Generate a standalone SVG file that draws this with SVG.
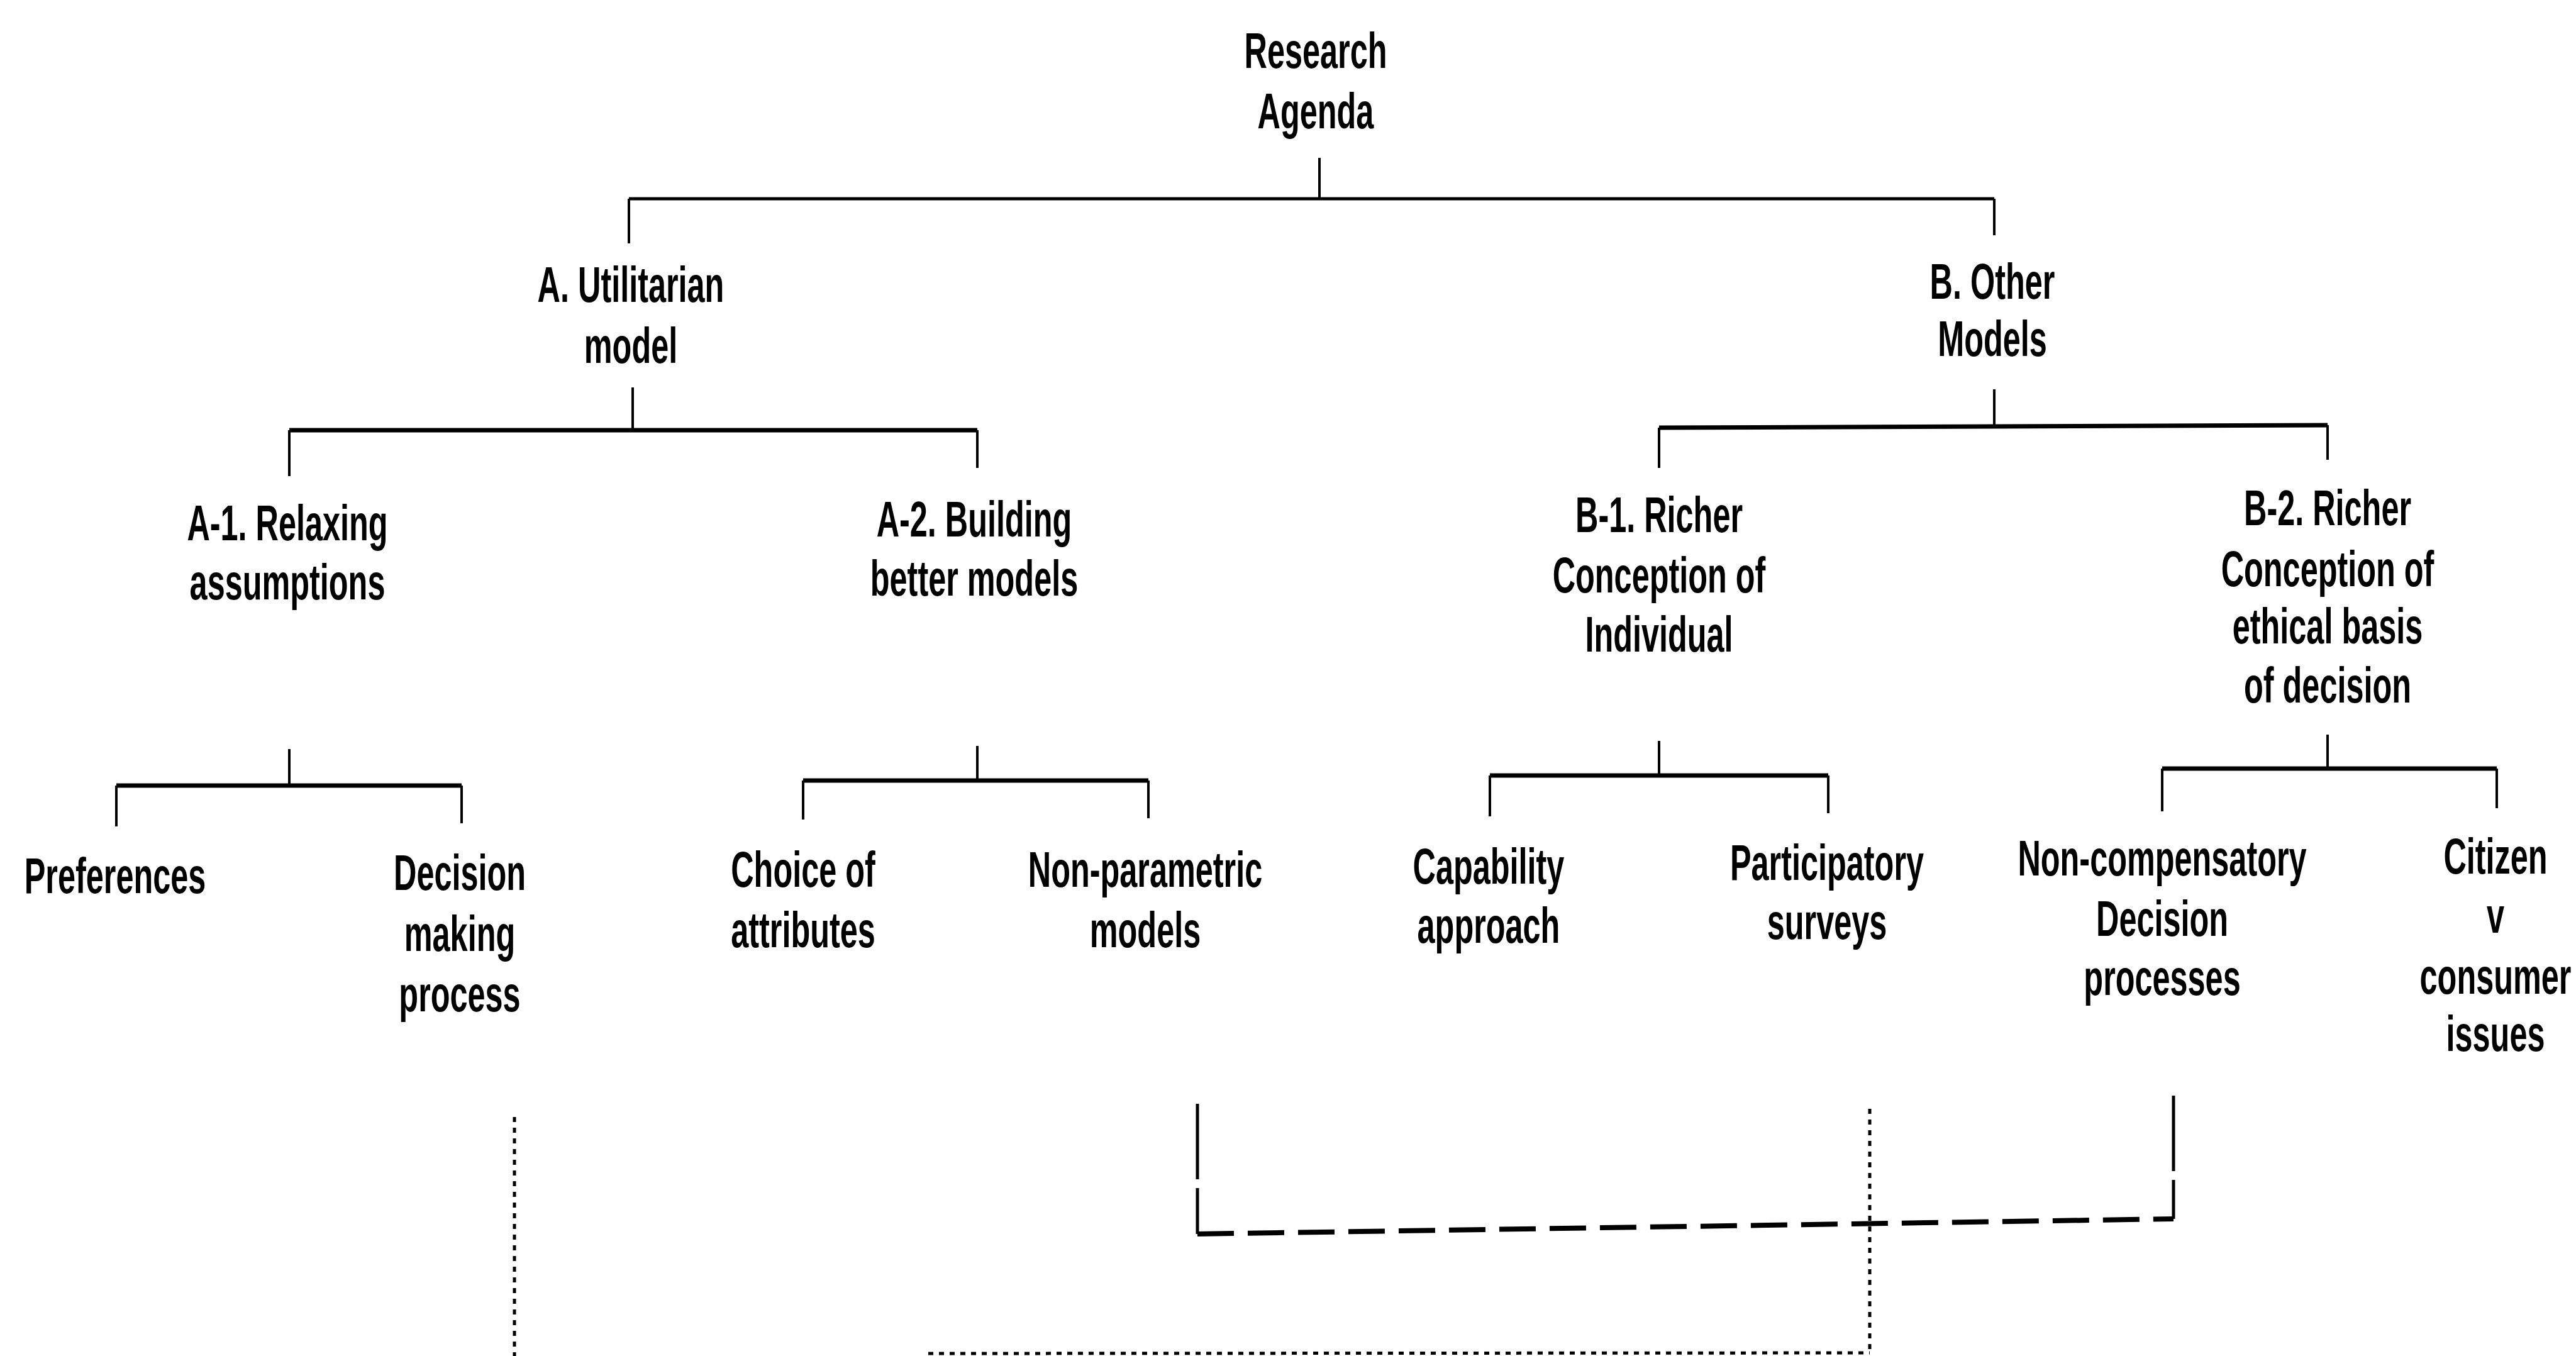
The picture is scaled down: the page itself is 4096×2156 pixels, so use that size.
<svg xmlns="http://www.w3.org/2000/svg" width="4096" height="2156" viewBox="0 0 4096 2156">
<style>
.t{font-family:"Liberation Sans",Arial,sans-serif;font-weight:bold;font-size:80px;fill:#000;text-anchor:middle}
.h{stroke:#000;stroke-width:7;fill:none}
.v{stroke:#000;stroke-width:4;fill:none}
.dash{stroke:#000;stroke-width:8;fill:none;stroke-dasharray:58 22}
.vdash{stroke:#000;stroke-width:5;fill:none;stroke-dasharray:120 14}
.dot{stroke:#000;stroke-width:5;fill:none;stroke-dasharray:8 9}
</style>
<rect width="4096" height="2156" fill="#fff"/>
<g id="connectors">
  <line class="v" x1="2098" y1="251" x2="2098" y2="316"/>
  <line class="h" x1="1000" y1="316" x2="3171" y2="316" style="stroke-width:5"/>
  <line class="v" x1="1000" y1="316" x2="1000" y2="387"/>
  <line class="v" x1="3171" y1="316" x2="3171" y2="374"/>
  <line class="v" x1="1006" y1="616" x2="1006" y2="684"/>
  <line class="h" x1="460" y1="684" x2="1554" y2="684"/>
  <line class="v" x1="460" y1="684" x2="460" y2="757"/>
  <line class="v" x1="1554" y1="684" x2="1554" y2="744"/>
  <line class="v" x1="3171" y1="619" x2="3171" y2="677"/>
  <line class="h" x1="2638" y1="680" x2="3701" y2="676"/>
  <line class="v" x1="2638" y1="680" x2="2638" y2="744"/>
  <line class="v" x1="3701" y1="676" x2="3701" y2="731"/>
  <line class="v" x1="460" y1="1191" x2="460" y2="1249"/>
  <line class="h" x1="185" y1="1249" x2="734" y2="1249"/>
  <line class="v" x1="185" y1="1249" x2="185" y2="1314"/>
  <line class="v" x1="734" y1="1249" x2="734" y2="1309"/>
  <line class="v" x1="1554" y1="1186" x2="1554" y2="1241"/>
  <line class="h" x1="1277" y1="1241" x2="1826" y2="1241"/>
  <line class="v" x1="1277" y1="1241" x2="1277" y2="1303"/>
  <line class="v" x1="1826" y1="1241" x2="1826" y2="1301"/>
  <line class="v" x1="2638" y1="1178" x2="2638" y2="1233"/>
  <line class="h" x1="2369" y1="1233" x2="2907" y2="1233"/>
  <line class="v" x1="2369" y1="1233" x2="2369" y2="1298"/>
  <line class="v" x1="2907" y1="1233" x2="2907" y2="1293"/>
  <line class="v" x1="3701" y1="1168" x2="3701" y2="1222"/>
  <line class="h" x1="3438" y1="1222" x2="3970" y2="1222"/>
  <line class="v" x1="3438" y1="1222" x2="3438" y2="1290"/>
  <line class="v" x1="3970" y1="1222" x2="3970" y2="1285"/>
  <line class="dot" x1="818" y1="1776" x2="818" y2="2156"/>
  <line class="vdash" x1="1904" y1="1755" x2="1904" y2="1962"/>
  <line class="dash" x1="1904" y1="1962" x2="3456" y2="1938"/>
  <line class="vdash" x1="3456" y1="1742" x2="3456" y2="1938"/>
  <line class="dot" x1="2973" y1="1763" x2="2973" y2="2151"/>
  <line class="dot" x1="1476" y1="2152" x2="2973" y2="2151"/>
</g>
<g id="n-root" transform="translate(2092,0)"><text class="t" transform="scale(0.63,1)"><tspan x="0" y="108">Research</tspan><tspan x="0" y="204">Agenda</tspan></text></g>
<g id="n-a" transform="translate(1003,0)"><text class="t" transform="scale(0.63,1)"><tspan x="0" y="480">A. Utilitarian</tspan><tspan x="0" y="577">model</tspan></text></g>
<g id="n-b" transform="translate(3168,0)"><text class="t" transform="scale(0.63,1)"><tspan x="0" y="475">B. Other</tspan><tspan x="0" y="566">Models</tspan></text></g>
<g id="n-a1" transform="translate(457,0)"><text class="t" transform="scale(0.63,1)"><tspan x="0" y="859">A-1. Relaxing</tspan><tspan x="0" y="953">assumptions</tspan></text></g>
<g id="n-a2" transform="translate(1549,0)"><text class="t" transform="scale(0.63,1)"><tspan x="0" y="853">A-2. Building</tspan><tspan x="0" y="947">better models</tspan></text></g>
<g id="n-b1" transform="translate(2638,0)"><text class="t" transform="scale(0.63,1)"><tspan x="0" y="846">B-1. Richer</tspan><tspan x="0" y="942">Conception of</tspan><tspan x="0" y="1036">Individual</tspan></text></g>
<g id="n-b2" transform="translate(3701,0)"><text class="t" transform="scale(0.63,1)"><tspan x="0" y="835">B-2. Richer</tspan><tspan x="0" y="932">Conception of</tspan><tspan x="0" y="1023">ethical basis</tspan><tspan x="0" y="1117">of decision</tspan></text></g>
<g id="n-pref" transform="translate(183,0)"><text class="t" transform="scale(0.63,1)"><tspan x="0" y="1420">Preferences</tspan></text></g>
<g id="n-dmp" transform="translate(731,0)"><text class="t" transform="scale(0.63,1)"><tspan x="0" y="1415">Decision</tspan><tspan x="0" y="1512">making</tspan><tspan x="0" y="1608">process</tspan></text></g>
<g id="n-choice" transform="translate(1277,0)"><text class="t" transform="scale(0.63,1)"><tspan x="0" y="1410">Choice of</tspan><tspan x="0" y="1506">attributes</tspan></text></g>
<g id="n-nonpar" transform="translate(1821,0)"><text class="t" transform="scale(0.63,1)"><tspan x="0" y="1410">Non-parametric</tspan><tspan x="0" y="1506">models</tspan></text></g>
<g id="n-cap" transform="translate(2367,0)"><text class="t" transform="scale(0.63,1)"><tspan x="0" y="1405">Capability</tspan><tspan x="0" y="1499">approach</tspan></text></g>
<g id="n-part" transform="translate(2905,0)"><text class="t" transform="scale(0.63,1)"><tspan x="0" y="1399">Participatory</tspan><tspan x="0" y="1493">surveys</tspan></text></g>
<g id="n-noncomp" transform="translate(3438,0)"><text class="t" transform="scale(0.63,1)"><tspan x="0" y="1392">Non-compensatory</tspan><tspan x="0" y="1488">Decision</tspan><tspan x="0" y="1582">processes</tspan></text></g>
<g id="n-citizen" transform="translate(3968,0)"><text class="t" transform="scale(0.63,1)"><tspan x="0" y="1389">Citizen</tspan><tspan x="0" y="1483">v</tspan><tspan x="0" y="1580">consumer</tspan><tspan x="0" y="1671">issues</tspan></text></g>
</svg>
